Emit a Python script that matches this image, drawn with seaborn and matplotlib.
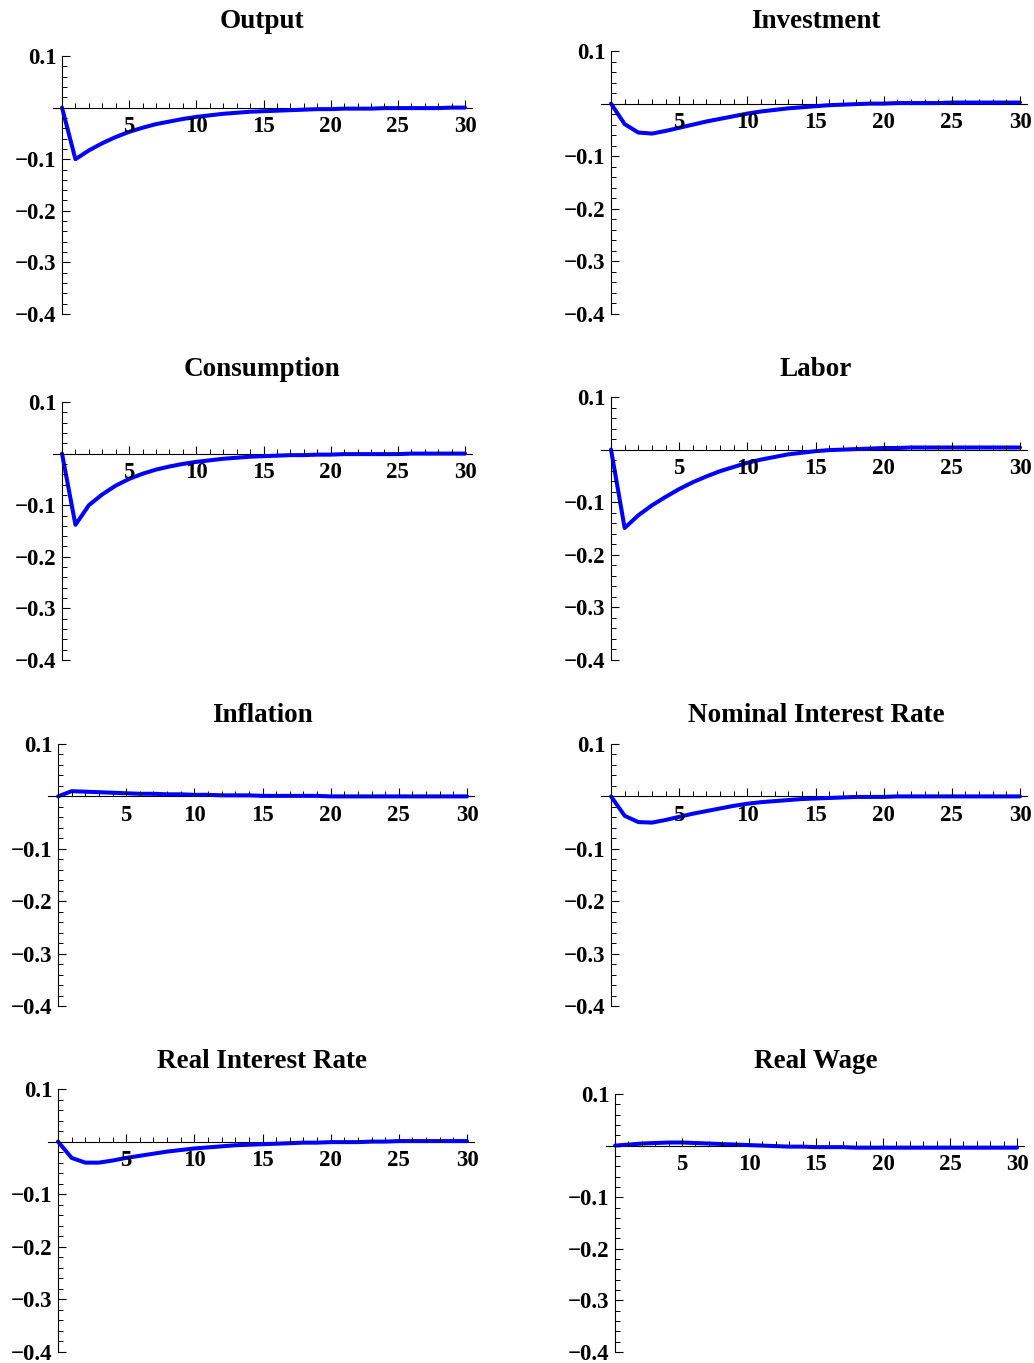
import matplotlib
matplotlib.use("Agg")
import matplotlib.pyplot as plt
from matplotlib.ticker import MultipleLocator, FixedLocator
import seaborn as sns

# impulse responses, periods 0..30
periods = list(range(31))

output = [0, -0.100, -0.083, -0.069, -0.057, -0.047, -0.039, -0.032, -0.027, -0.022,
          -0.018, -0.015, -0.012, -0.010, -0.008, -0.007, -0.006, -0.005, -0.004, -0.003,
          -0.003, -0.002, -0.002, -0.002, -0.001, -0.001, -0.001, -0.001, -0.001, 0.000, 0.000]
investment = [0, -0.039, -0.055, -0.057, -0.052, -0.046, -0.040, -0.034, -0.029, -0.024,
              -0.019, -0.015, -0.012, -0.009, -0.007, -0.005, -0.003, -0.002, -0.001, 0.000,
              0.000, 0.001, 0.001, 0.001, 0.001, 0.002, 0.002, 0.002, 0.002, 0.002, 0.002]
consumption = [0, -0.138, -0.100, -0.079, -0.062, -0.049, -0.039, -0.031, -0.025, -0.020,
               -0.016, -0.013, -0.010, -0.008, -0.006, -0.005, -0.004, -0.003, -0.003, -0.002,
               -0.002, -0.001, -0.001, -0.001, -0.001, -0.001, 0.000, 0.000, 0.000, 0.000, 0.000]
labor = [0, -0.149, -0.125, -0.106, -0.090, -0.075, -0.062, -0.051, -0.041, -0.033,
         -0.025, -0.019, -0.014, -0.009, -0.006, -0.003, -0.001, 0.000, 0.001, 0.002,
         0.003, 0.003, 0.004, 0.004, 0.004, 0.004, 0.004, 0.004, 0.004, 0.004, 0.004]
inflation = [0, 0.010, 0.009, 0.008, 0.007, 0.006, 0.005, 0.005, 0.004, 0.004,
             0.003, 0.003, 0.002, 0.002, 0.002, 0.001, 0.001, 0.001, 0.001, 0.001,
             0.000, 0.000, 0.000, 0.000, 0.000, 0.000, 0.000, 0.000, 0.000, 0.000, 0.000]
nominal_rate = [0, -0.037, -0.049, -0.050, -0.045, -0.039, -0.033, -0.028, -0.023, -0.018,
                -0.014, -0.011, -0.009, -0.007, -0.005, -0.004, -0.003, -0.002, -0.001, -0.001,
                -0.001, 0.000, 0.000, 0.000, 0.000, 0.000, 0.000, 0.000, 0.000, 0.000, 0.000]
real_rate = [0, -0.031, -0.040, -0.040, -0.036, -0.031, -0.027, -0.023, -0.019, -0.016,
             -0.013, -0.011, -0.009, -0.007, -0.006, -0.005, -0.004, -0.003, -0.002, -0.002,
             -0.001, -0.001, -0.001, 0.000, 0.000, 0.001, 0.001, 0.001, 0.001, 0.001, 0.001]
real_wage = [0, 0.002, 0.004, 0.005, 0.006, 0.006, 0.005, 0.004, 0.003, 0.002,
             0.001, 0.000, -0.001, -0.002, -0.002, -0.003, -0.003, -0.003, -0.004, -0.004,
             -0.004, -0.004, -0.004, -0.004, -0.004, -0.004, -0.004, -0.004, -0.004, -0.004, -0.004]

titles = ["Output", "Investment", "Consumption", "Labor",
          "Inflation", "Nominal Interest Rate", "Real Interest Rate", "Real Wage"]
series = [output, investment, consumption, labor,
          inflation, nominal_rate, real_rate, real_wage]

y_ticks = [-0.4, -0.3, -0.2, -0.1, 0.1]
y_labels = ["\u22120.4", "\u22120.3", "\u22120.2", "\u22120.1", "0.1"]
x_ticks = [5, 10, 15, 20, 25, 30]

# panel placement in pixels: x of t=0, x of t=30, y of 0.1, y of -0.4, title centre
layout = [
    (62, 465, 56, 314, 262, 22),
    (611, 1020, 51, 314, 816, 22),
    (62, 465, 402, 660, 262, 370),
    (611, 1020, 397, 660, 816, 370),
    (58, 467, 744, 1006, 262, 716),
    (611, 1020, 744, 1006, 816, 716),
    (58, 467, 1089, 1352, 262, 1062),
    (615, 1017, 1094, 1352, 816, 1062),
]

sns.set_style("white")
plt.rcParams['font.family'] = ['Liberation Serif', 'DejaVu Serif']
plt.rcParams['font.weight'] = 'bold'
plt.rcParams['text.color'] = 'black'

W, H = 1034, 1363
XMIN, XMAX = -0.7, 30.5

fig = plt.figure(figsize=(W / 100, H / 100), dpi=100)

for title, vals, (x0, x30, ytop, ybot, tcx, tcy) in zip(titles, series, layout):
    unit = (x30 - x0) / 30
    left = x0 + XMIN * unit
    right = x0 + XMAX * unit
    ax = fig.add_axes([left / W, 1 - ybot / H, (right - left) / W, (ybot - ytop) / H])

    sns.lineplot(x=periods, y=vals, ax=ax, color=(0, 0, 1), lw=2.9, zorder=2.6)

    ax.set_xlim(XMIN, XMAX)
    ax.set_ylim(-0.4, 0.1)
    ax.set_xlabel("")
    ax.set_ylabel("")

    for s in ["top", "right"]:
        ax.spines[s].set_visible(False)
    ax.spines["left"].set_position(("data", 0))
    ax.spines["bottom"].set_position(("data", 0))
    for s in ["left", "bottom"]:
        ax.spines[s].set_linewidth(0.8)
        ax.spines[s].set_color("black")
        ax.spines[s].set_zorder(2.5)

    ax.set_yticks(y_ticks)
    ax.set_yticklabels(y_labels)
    ax.yaxis.set_minor_locator(FixedLocator([v / 100 for v in range(-40, 11, 2)]))
    ax.set_xticks(x_ticks)
    ax.set_xticklabels([str(v) for v in x_ticks])
    ax.xaxis.set_minor_locator(MultipleLocator(1))

    ax.tick_params(axis="both", which="both", bottom=True, left=True,
                   top=False, right=False, direction="in", color="black")
    ax.tick_params(axis="both", which="major", length=6, width=0.8,
                   labelsize=16.5, labelcolor="black")
    ax.tick_params(axis="both", which="minor", length=3.5, width=0.7)
    ax.tick_params(axis="x", which="major", pad=6)
    ax.tick_params(axis="y", which="major", pad=4)
    for lab in ax.get_xticklabels() + ax.get_yticklabels():
        lab.set_fontweight("bold")
    ax.xaxis.set_zorder(3)
    ax.yaxis.set_zorder(3)
    ax.patch.set_alpha(0)

    fig.text(tcx / W, 1 - tcy / H, title, ha="center", va="center",
             fontsize=19.5, fontweight="bold", color="black")

fig.savefig("out.png", dpi=100)
plt.close(fig)
